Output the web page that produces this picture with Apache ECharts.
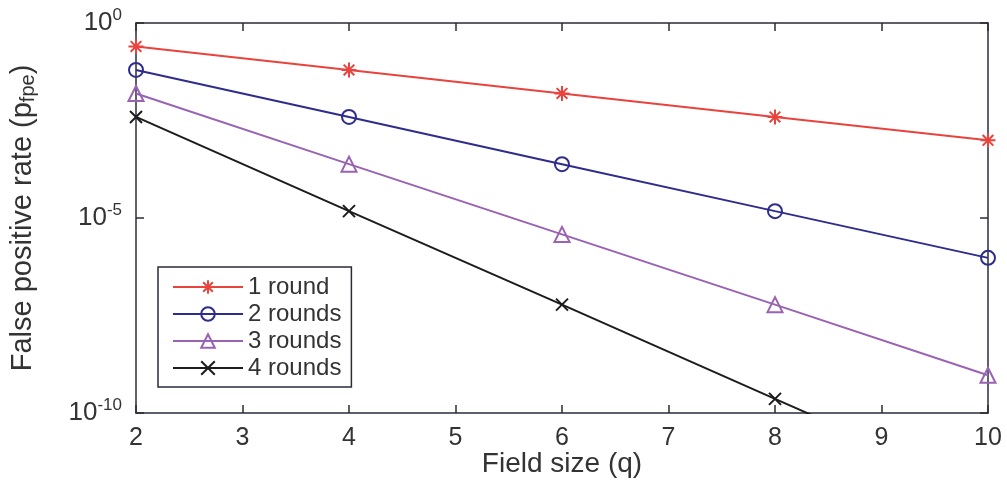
<!DOCTYPE html>
<html>
<head>
<meta charset="utf-8">
<script src="https://cdn.jsdelivr.net/npm/echarts@6/dist/echarts.min.js"></script>
<style>
  html, body { margin: 0; padding: 0; background: #fff; }
  #chart { width: 1007px; height: 482px; }
</style>
</head>
<body>
<div id="chart"></div>
<script>
// Field sizes on the x axis
const fieldSizes = [2, 4, 6, 8, 10];

// False positive rate per number of rounds
const oneRound    = [0.25, 0.0625, 0.0156, 0.0039, 0.00098];
const twoRounds   = [0.0625, 0.0039, 0.00024, 0.000015, 9.5e-7];
const threeRounds = [0.0156, 0.00024, 3.8e-6, 6.0e-8, 9.3e-10];
const fourRounds  = [0.0039, 0.000015, 6.0e-8, 2.3e-10, 9.1e-13];

// Decades that carry a tick and a label on the y axis
const yTickValues = [1e-10, 1e-5, 1];

const seriesNames = ['1 round', '2 rounds', '3 rounds', '4 rounds'];
const seriesValues = [oneRound, twoRounds, threeRounds, fourRounds];

const colors = ['#e8433d', '#2e2c8c', '#9a62b2', '#1c1c1c'];

// Marker shapes: asterisk, open circle, open triangle, cross
const symbols = [
  'path://M10,0L10,20M0,10L20,10M2.9,2.9L17.1,17.1M17.1,2.9L2.9,17.1',
  'path://M10,0A10,10 0 1 1 9.99,0Z',
  'path://M10,0L20,18L0,18Z',
  'path://M0,0L20,20M20,0L0,20'
];
const symbolSizes = [15, 14, 15, 12];

const chart = echarts.init(document.getElementById('chart'), null, { renderer: 'canvas' });

const axisColor = '#2b2b38';
const textColor = '#333';
const font = 'Liberation Sans, Arial, sans-serif';

const series = seriesNames.map((name, i) => ({
  name: name,
  type: 'line',
  data: fieldSizes.map((q, j) => [q, seriesValues[i][j]]),
  symbol: symbols[i],
  symbolSize: symbolSizes[i],
  showAllSymbol: true,
  clip: true,
  lineStyle: { color: colors[i], width: 2 },
  itemStyle: { color: 'rgba(0,0,0,0)', borderColor: colors[i], borderWidth: 2 },
  emphasis: { disabled: true },
  z: 10 - i
}));

const supLabel = v => {
  const e = Math.round(Math.log10(v));
  return '{b|10}{s|' + e + '}';
};

const tickStyle = { show: true, inside: true, length: 8, lineStyle: { color: axisColor, width: 1.5 } };
const lineStyle = { show: true, lineStyle: { color: axisColor, width: 1.5 } };

chart.setOption({
  animation: false,
  backgroundColor: '#fff',
  grid: { left: 136, right: 19, top: 23, bottom: 69, containLabel: false, outerBoundsMode: 'none' },
  legend: {
    orient: 'vertical',
    left: 158,
    top: 267,
    padding: [8, 10, 7, 14],
    itemWidth: 70,
    itemHeight: 17,
    itemGap: 3,
    borderColor: axisColor,
    borderWidth: 1.5,
    borderRadius: 0,
    backgroundColor: '#fff',
    textStyle: { fontFamily: font, fontSize: 24, color: textColor, padding: [0, 0, 0, 0] },
    data: seriesNames
  },
  xAxis: [{
    type: 'value',
    min: 2, max: 10, interval: 1,
    name: 'Field size (q)',
    nameLocation: 'middle',
    nameGap: 37,
    nameMoveOverlap: false,
    nameTextStyle: { fontFamily: font, fontSize: 28, color: textColor },
    axisLine: lineStyle,
    axisTick: tickStyle,
    axisLabel: { fontFamily: font, fontSize: 25, color: textColor, margin: 13 },
    splitLine: { show: false }
  }, {
    type: 'value',
    position: 'top',
    min: 2, max: 10, interval: 1,
    axisLine: lineStyle,
    axisTick: tickStyle,
    axisLabel: { show: false },
    splitLine: { show: false }
  }],
  yAxis: [{
    type: 'log',
    logBase: 10,
    min: 1e-10, max: 1,
    name: '{n|False positive rate (p}{sub|fpe}{n|)}',
    nameLocation: 'middle',
    nameGap: 98,
    nameMoveOverlap: false,
    nameRotate: 90,
    nameTextStyle: {
      rich: {
        n: { fontFamily: font, fontSize: 29, color: textColor },
        sub: { fontFamily: font, fontSize: 20, color: textColor, padding: [10, 0, 0, 0] }
      }
    },
    axisLine: lineStyle,
    axisTick: Object.assign({ customValues: yTickValues }, tickStyle),
    axisLabel: {
      customValues: yTickValues,
      formatter: supLabel,
      margin: 14,
      rich: {
        b: { fontFamily: font, fontSize: 26, color: textColor },
        s: { fontFamily: font, fontSize: 17, color: textColor, padding: [0, 0, 16, 0] }
      }
    },
    splitLine: { show: false }
  }, {
    type: 'log',
    logBase: 10,
    position: 'right',
    min: 1e-10, max: 1,
    axisLine: lineStyle,
    axisTick: Object.assign({ customValues: yTickValues }, tickStyle),
    axisLabel: { show: false },
    splitLine: { show: false }
  }],
  series: series
});
</script>
</body>
</html>
